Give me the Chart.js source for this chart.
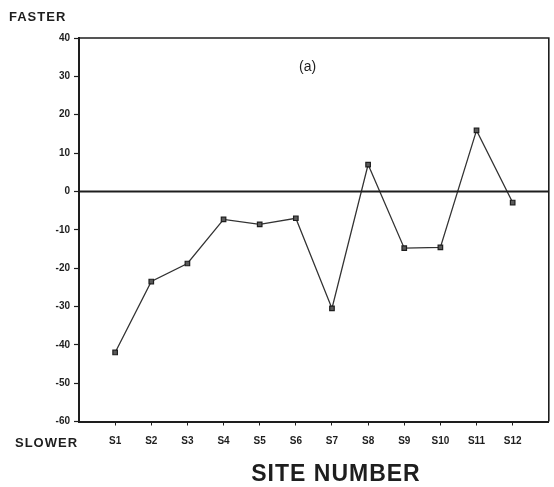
<!DOCTYPE html>
<html>
<head>
<meta charset="utf-8">
<script src="https://cdn.jsdelivr.net/npm/chart.js@4/dist/chart.umd.min.js"></script>
<style>
  html, body { margin: 0; padding: 0; background: #fff; }
  #wrap { width: 554px; height: 487px; position: relative; }
</style>
</head>
<body>
<div id="wrap"><canvas id="c" width="554" height="487"></canvas></div>
<script>
// Site categories along the x axis
const sites = ['S1', 'S2', 'S3', 'S4', 'S5', 'S6', 'S7', 'S8', 'S9', 'S10', 'S11', 'S12'];
// Relative speed difference per site (positive = faster, negative = slower)
const speedDiff = [-42.0, -23.5, -18.8, -7.3, -8.6, -7.0, -30.5, 7.0, -14.8, -14.6, 15.9, -2.9];
// Y axis range and step
const yMin = -60, yMax = 40, yStep = 10;

const ink = '#1e1e1e';
const fontFamily = '"Liberation Sans", Arial, sans-serif';
const points = sites.map((s, i) => ({ x: i + 1, y: speedDiff[i] }));

const annotations = {
  id: 'annotations',
  afterDraw(chart) {
    const { ctx, chartArea: a, scales } = chart;
    ctx.save();
    // frame around the plot area
    ctx.strokeStyle = ink;
    ctx.lineWidth = 1.6;
    ctx.beginPath();
    ctx.moveTo(a.left, a.top);
    ctx.lineTo(a.right, a.top);
    ctx.lineTo(a.right, a.bottom);
    ctx.stroke();
    // zero reference line
    const y0 = scales.y.getPixelForValue(0);
    ctx.lineWidth = 2;
    ctx.beginPath();
    ctx.moveTo(a.left, y0);
    ctx.lineTo(a.right, y0);
    ctx.stroke();

    ctx.fillStyle = ink;
    ctx.textBaseline = 'middle';
    ctx.font = 'bold 13px ' + fontFamily;
    ctx.textAlign = 'left';
    ctx.letterSpacing = '1px';
    ctx.fillText('FASTER', 9, 17);
    ctx.fillText('SLOWER', 15, 443);
    ctx.letterSpacing = '0px';
    ctx.font = '14px ' + fontFamily;
    ctx.fillText('(a)', 299, 67);
    ctx.font = 'bold 23px ' + fontFamily;
    ctx.textAlign = 'center';
    ctx.letterSpacing = '1px';
    ctx.fillText('SITE NUMBER', 336, 475);
    ctx.restore();
  }
};

new Chart(document.getElementById('c'), {
  type: 'line',
  data: {
    datasets: [{
      data: points,
      borderColor: '#333',
      borderWidth: 1.3,
      pointStyle: 'rect',
      pointRadius: 3.2,
      pointBackgroundColor: '#5a5a5a',
      pointBorderColor: ink,
      pointBorderWidth: 1.2,
      tension: 0
    }]
  },
  options: {
    responsive: false,
    animation: false,
    devicePixelRatio: 1,
    layout: { padding: { top: 38, right: 1, left: 0, bottom: 0 } },
    plugins: { legend: { display: false }, tooltip: { enabled: false } },
    scales: {
      x: {
        type: 'linear',
        min: 0,
        max: sites.length + 1,
        afterBuildTicks(scale) {
          scale.ticks = sites.map((s, i) => ({ value: i + 1 }));
        },
        afterFit(scale) { scale.height = 65.5; },
        ticks: {
          autoSkip: false,
          maxRotation: 0,
          padding: 10,
          color: ink,
          font: { size: 10, weight: 'bold', family: fontFamily },
          callback: (v) => sites[v - 1] || ''
        },
        grid: { drawOnChartArea: false, drawTicks: true, tickLength: 4, tickColor: ink, tickWidth: 1 },
        border: { display: true, color: ink, width: 2 }
      },
      y: {
        min: yMin,
        max: yMax,
        ticks: {
          stepSize: yStep,
          padding: 4,
          color: ink,
          font: { size: 10, weight: 'bold', family: fontFamily }
        },
        afterFit(scale) { scale.width = 79; },
        grid: { drawOnChartArea: false, drawTicks: true, tickLength: 5, tickColor: ink, tickWidth: 1.2 },
        border: { display: true, color: ink, width: 2 }
      }
    }
  },
  plugins: [annotations]
});
</script>
</body>
</html>
